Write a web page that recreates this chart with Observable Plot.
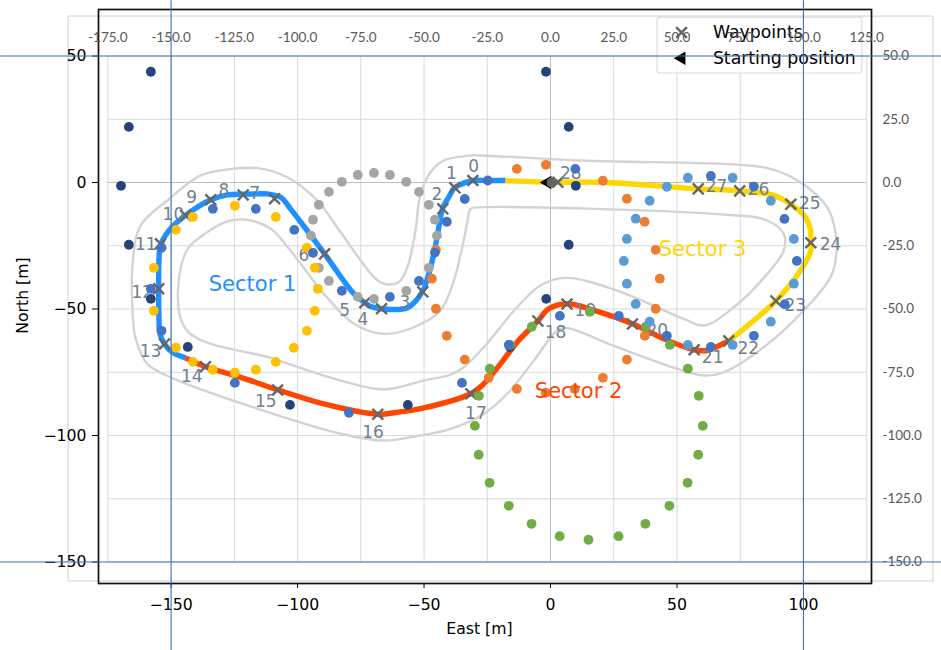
<!DOCTYPE html>
<html>
<head>
<meta charset="utf-8">
<script src="https://cdn.jsdelivr.net/npm/d3@7"></script>
<script src="https://cdn.jsdelivr.net/npm/@observablehq/plot@0.6"></script>
<style>html,body{margin:0;padding:0;background:#fff}svg{display:block}</style>
</head>
<body>
<div id="chart"></div>
<script>
// [East, North] in metres
const sector1 = [[-17.8,0.8],[-24.9,0.8],[-30.8,0.8],[-35.6,-0.8],[-37.9,-2],[-40.3,-5.9],[-42.7,-10.3],[-43.8,-15.8],[-46.1,-28.1],[-48.1,-36],[-50.7,-43.2],[-56.6,-49.5],[-66.8,-49.9],[-71.1,-49],[-73.4,-47.5],[-77.7,-44],[-89.3,-28.2],[-96.2,-19],[-102.8,-10.4],[-106.7,-5.8],[-112,-4.5],[-115.9,-4.5],[-121.5,-4.6],[-127.8,-4.9],[-134.3,-6.8],[-144.3,-13],[-150.9,-19],[-154.2,-24.9],[-154.8,-30.8],[-154.9,-42],[-154.8,-53.2],[-154.4,-59.8],[-152.6,-63.8],[-149.5,-67.1],[-144.3,-69.3]];
const sector2 = [[-144.3,-69.3],[-136.4,-72.8],[-122.5,-77],[-107.9,-81.9],[-89.6,-87.5],[-68.3,-91.6],[-63.2,-91.2],[-50.1,-89.1],[-31.5,-83.5],[-26.4,-79.6],[-19.8,-71.7],[-13.2,-63.1],[-5,-54.7],[-0.7,-49.9],[6.4,-47.9],[18.5,-50.9],[32.4,-55.8],[44.8,-61.8],[56.8,-66.1],[61.9,-66.4],[65.9,-64.8],[70.5,-62.6]];
const sector3 = [[70.5,-62.6],[79.1,-55.6],[89.1,-46.8],[98.8,-34.8],[102.9,-26.9],[102.9,-23.8],[102.8,-19],[100.8,-13.7],[95,-8.6],[88.3,-5.1],[74.8,-3.3],[58.4,-2.5],[46.1,-1.6],[20.7,0.1],[2.9,0.1],[-17.8,0.7]];
const outerBoundary = [[-27.7,10.7],[11.9,8.7],[75.1,7],[87,5.4],[98.8,0.1],[109.4,-9.8],[112.3,-17.7],[113,-28.2],[110.7,-37.4],[100.1,-50.6],[84.3,-65.1],[68.5,-75],[60.6,-76.3],[50.1,-73.6],[26.4,-65.1],[5.9,-57.4],[2.6,-58.5],[-6.6,-70.4],[-17.1,-83.5],[-26.4,-91.4],[-39.5,-97.4],[-51.4,-100],[-65.9,-102],[-83,-99.3],[-115.9,-89.4],[-150.2,-77],[-159.4,-71.7],[-164,-61.8],[-165.1,-53.2],[-165.1,-30.8],[-162.1,-17],[-151.5,-7.1],[-138.3,2.8],[-129.1,5],[-115.9,5.7],[-104.1,2.1],[-92.2,-7.1],[-83.7,-18.6],[-69.8,-37.4],[-65.9,-40],[-60,-39.4],[-56.6,-33.5],[-53.4,-19],[-51.4,-4.5],[-47.4,4.1],[-42.2,8.7],[-31.6,10.7]];
const innerBoundary = [[-27.7,-9.8],[64.5,-12.4],[85.7,-15],[92.2,-20.3],[92.2,-26.9],[85.7,-36.1],[72.5,-49.3],[60.6,-56.5],[52.7,-53.9],[26.4,-42.7],[5.9,-37.7],[-4,-40.7],[-13.2,-49.3],[-26.4,-65.1],[-34.3,-73],[-39.5,-75.9],[-50.2,-78.3],[-65.9,-81.8],[-83,-78.3],[-109.4,-69.7],[-144.3,-57.8],[-144.5,-28.2],[-135.7,-19.6],[-126.5,-15],[-118.6,-15],[-110.7,-18.2],[-102.8,-26.9],[-89.6,-44],[-77.7,-55.8],[-65.9,-59.8],[-54,-57.2],[-43.5,-50.6],[-38.2,-38.7],[-34.9,-25.6],[-32.9,-15.8],[-31.6,-10.4]];
const waypoints = [[-30.7,0.8],[-37.8,-2.1],[-42.6,-10.4],[-50.5,-43.2],[-66.8,-49.9],[-73.4,-47.5],[-89.3,-28.2],[-109.1,-6.4],[-121.5,-4.9],[-134.3,-6.8],[-144.3,-13],[-154.2,-24.2],[-154.9,-42],[-152.6,-63.8],[-136.4,-72.8],[-107.9,-82],[-68.3,-91.6],[-31.5,-83.5],[-5,-54.7],[6.5,-48],[32.4,-55.9],[56.8,-66.1],[70.5,-62.6],[89.1,-46.8],[102.9,-23.8],[95,-8.6],[74.8,-3.3],[58.4,-2.5],[2.9,0.1]];
const waypointLabels = [[-30.4,6.3],[-39.2,3.6],[-44.9,-4.7],[-57.6,-47.5],[-74.2,-54.1],[-81.4,-50.6],[-97.5,-28.9],[-116.9,-4.3],[-129.1,-3.2],[-141.9,-6],[-149.1,-12.5],[-160,-24.5],[-161.4,-43.5],[-158.1,-66.8],[-141.8,-76.5],[-112.6,-86.7],[-70.2,-98.7],[-29.5,-91.4],[2,-59.4],[13.8,-50.7],[42.2,-58.5],[64.1,-69.3],[78.2,-65.7],[96.8,-48.7],[110.7,-24.4],[102.5,-8.2],[82.2,-2.9],[65.6,-1.6],[8,3.4]];

const navyDots = [[-158,43.8],[-166.7,22],[-169.8,-1.3],[-166.7,-24.6],[-158,-46],[-143.4,-65],[-103,-87.9],[-56.4,-87.9],[-16,-65],[-1.7,-46],[7.2,-24.6],[10,-1.3],[7.2,22],[-1.8,43.8]];
const grayDots = [[-69.8,3.8],[-76.2,3],[-63.5,3],[-82.5,0.3],[-57,0.3],[-87.6,-3.7],[-52,-3.7],[-91.6,-8.8],[-48.1,-8.8],[-93.9,-14.7],[-45.7,-14.7],[-94.7,-21],[-44.9,-21],[-91.6,-33.7],[-48.1,-33.7],[-87.6,-38.9],[-57,-42.8],[-76.2,-45.2],[-69.8,-46]];
const goldDots = [[-124.8,-9.2],[-141.4,-13.6],[-108.6,-13.6],[-148.1,-18.7],[-156.8,-33.7],[-156.8,-50.7],[-148.1,-65.3],[-141.4,-70.9],[-133.5,-74],[-124.8,-75.2],[-116.5,-74],[-108.6,-70.9],[-101.5,-65.3],[-96.3,-58.6],[-93.2,-50.7],[-92,-42],[-93.2,-33.7],[-96.3,-25.8]];
const orangeDots = [[-13.3,5.4],[-1.8,7],[20.7,0.7],[30.2,-6.4],[37.2,-15.5],[41.6,-26.6],[43.2,-38],[41.6,-49.9],[37.3,-60.6],[30.2,-70],[20.7,-77.2],[9.6,-81.6],[-1.9,-83.1],[-13.3,-81.6],[-24.4,-77.2],[-33.9,-70],[-41,-60.6],[-45.3,-49.9],[-46.9,-38],[-45.3,-26.6]];
const lightBlueDots = [[54.3,1.9],[72,1.9],[46,-1.7],[87.1,-7.2],[39.2,-7.2],[33.7,-14.3],[96.2,-22.3],[30.2,-22.3],[29,-31],[96.2,-40],[30.2,-40],[87.1,-55],[33.7,-48],[39.2,-55],[54.3,-64.2],[72,-64.2]];
const greenDots = [[-28.3,-84.3],[-29.9,-96.2],[-24,-73.6],[-16,-64.2],[-7.4,-57],[15.5,-51.1],[37.7,-57],[47.2,-64.2],[54.3,-73.6],[58.6,-84.3],[60.2,-96.2],[-28.4,-107.6],[-24.1,-118.7],[-16.5,-127.8],[-7.5,-134.9],[3.6,-139.8],[15,-141.2],[26.9,-139.8],[37.5,-134.9],[47,-127.8],[54.2,-118.7],[58.4,-107.6]];
const blueDots = [[-24.8,0.8],[-33.9,-6.5],[-41,-15.5],[-45.7,-27.7],[-52,-38.9],[-63.5,-45.2],[-82.5,-42.8],[-93.9,-27.8],[-101.3,-18.7],[-116.5,-10.4],[-133.5,-10.4],[-153.8,-25.8],[-158,-42],[-153.8,-58.6],[-124.8,-79.2],[-79.7,-91],[-35,-79.2],[-16.5,-64.2],[3.7,-52.7],[27,-52.7],[46,-60.6],[63.4,-65],[80.4,-60.6],[92.6,-48.1],[97.4,-31],[92.5,-14.4],[80.4,-1.6],[63.4,2.6],[9.8,5.4]];

const sectorNames = ["Sector 1","Sector 2","Sector 3"];
const sectorColors = ["#1e90ff","#ff4500","#ffd700"];
const sectorLabelEast = [-117.8,11.1,60.1];
const sectorLabelNorth = [-40.3,-82.6,-26.5];

const mainXTicks = [-150,-100,-50,0,50,100];
const mainYTicks = [50,0,-50,-100,-150];
const gridX = [-175,-150,-125,-100,-75,-50,-25,0,25,50,75,100,125];
const gridY = [50,25,0,-25,-50,-75,-100,-125,-150];
const crossX = [-150,100];
const crossY = [50,-150];
const xDomain = [-178.7,126.9];
const yDomain = [-158.5,68.4];
const pageX = [-217.4,154.6];
const pageY = [71.9,-185];
const overlayTop = 57.3;
const overlayRight = 131.2;
const overlayBox = [-190.5,151.4,65.6,-157.7];
const legendBox = [42.3,123.3,65.2,43.1];
const legendItems = ["Waypoints","Starting position"];
const legendNorth = [59.3,49.1];
const legendMarkEast = 51.8;
const legendTextEast = 64.2;
const start = [[0,0]];
const axisTitleX = {text:"East [m]", x:-28.1, y:-176.3};
const axisTitleY = {text:"North [m]", x:-208.7, y:-44.7};

const toRows = a => a.map(([x,y]) => ({x,y}));
const DV = "DejaVu Sans";
const XL = "Lato";
const dots = (a, fill) => Plot.dot(toRows(a), {x:"x", y:"y", r:4.9, fill, stroke:"none"});
const boundary = a => Plot.line(toRows(a), {x:"x", y:"y", curve:"catmull-rom-closed", stroke:"#d3d3d3", strokeWidth:2.4});
const racing = (a, c) => Plot.line(toRows(a), {x:"x", y:"y", curve:"catmull-rom", stroke:c, strokeWidth:5.4, strokeLinecap:"butt"});

const chart = Plot.plot({
  width:941, height:650,
  marginLeft:98, marginRight:70, marginTop:9, marginBottom:67,
  x:{domain:xDomain, range:[98,871]},
  y:{domain:yDomain, range:[583,9]},
  style:{fontFamily:DV, background:"#fff", overflow:"visible"},
  marks:[
    // overlaid spreadsheet chart: outline and gridlines
    Plot.rect([overlayBox], {x1:d=>d[0], x2:d=>d[1], y1:d=>d[2], y2:d=>d[3], fill:"none", stroke:"#d9d9d9", strokeWidth:1.2}),
    Plot.ruleX(gridX, {y1:gridY[0], y2:gridY[gridY.length-1], stroke:d=>d===0?"#bfbfbf":"#d9d9d9", strokeWidth:1}),
    Plot.ruleY(gridY, {x1:gridX[0], x2:gridX[gridX.length-1], stroke:d=>d===0?"#bfbfbf":"#d9d9d9", strokeWidth:1}),

    boundary(outerBoundary),
    boundary(innerBoundary),
    racing(sector1, sectorColors[0]),
    racing(sector2, sectorColors[1]),
    racing(sector3, sectorColors[2]),

    Plot.dot(start, {x:d=>d[0], y:d=>d[1], symbol:"triangle", rotate:-90, r:5, fill:"#000", stroke:"none", dx:-3}),
    Plot.dot(toRows(waypoints), {x:"x", y:"y", symbol:"times", r:5, stroke:"#666", strokeWidth:2.4, fill:"none"}),
    Plot.text(toRows(waypointLabels), {x:"x", y:"y", text:(d,i)=>String(i), fontSize:17, fill:"#708090", fontFamily:DV}),
    Plot.dot(start, {x:d=>d[0], y:d=>d[1], r:5, fill:"#666", stroke:"none", dx:1}),

    // frame and primary axes
    Plot.frame({stroke:"#111", strokeWidth:1.7}),
    Plot.axisX(mainXTicks, {anchor:"bottom", tickSize:5, tickPadding:10, fontSize:15.7, stroke:"#000", color:"#000", label:null, tickFormat:d=>d3.format("d")(d)}),
    Plot.axisY(mainYTicks, {anchor:"left", tickSize:6, tickPadding:6, fontSize:15.7, stroke:"#000", color:"#000", label:null, tickFormat:d=>d3.format("d")(d)}),
    Plot.text([axisTitleX], {x:"x", y:"y", text:"text", fontSize:15.7, fill:"#000", fontFamily:DV}),
    Plot.text([axisTitleY], {x:"x", y:"y", text:"text", rotate:-90, fontSize:15.7, fill:"#000", fontFamily:DV}),

    // legend
    Plot.rect([legendBox], {x1:d=>d[0], x2:d=>d[1], y1:d=>d[2], y2:d=>d[3], fill:"#fff", fillOpacity:0.8, stroke:"#dcdcdc", strokeWidth:1.2, rx:3}),
    Plot.dot([legendItems[0]], {x:legendMarkEast, y:legendNorth[0], symbol:"times", r:5, stroke:"#666", strokeWidth:2.4, fill:"none"}),
    Plot.dot([legendItems[1]], {x:legendMarkEast, y:legendNorth[1], symbol:"triangle", rotate:-90, r:5, fill:"#000", stroke:"none"}),
    Plot.text(legendItems, {x:legendTextEast, y:(d,i)=>legendNorth[i], text:d=>d, textAnchor:"start", fontSize:17.3, fill:"#000", fontFamily:DV}),

    // overlaid spreadsheet chart: tick labels, points, rules
    Plot.text(gridX, {x:d=>d, y:overlayTop, text:d=>d.toFixed(1), fontSize:13.5, fill:"#595959", fontFamily:XL}),
    Plot.text(gridY, {x:overlayRight, y:d=>d, text:d=>d.toFixed(1), textAnchor:"start", fontSize:13.5, fill:"#595959", fontFamily:XL}),
    dots(navyDots,"#264478"),
    dots(grayDots,"#a5a5a5"),
    dots(goldDots,"#ffc000"),
    dots(orangeDots,"#ed7d31"),
    dots(greenDots,"#70ad47"),
    dots(lightBlueDots,"#5b9bd5"),
    dots(blueDots,"#4472c4"),
    Plot.text(sectorNames, {x:(d,i)=>sectorLabelEast[i], y:(d,i)=>sectorLabelNorth[i], text:d=>d, fill:(d,i)=>sectorColors[i], fontSize:21, fontFamily:DV}),
    Plot.ruleX(crossX, {y1:pageY[0], y2:pageY[1], stroke:"#3f6fb5", strokeWidth:1.1}),
    Plot.ruleY(crossY, {x1:pageX[0], x2:pageX[1], stroke:"#3f6fb5", strokeWidth:1.1})
  ]
});
document.getElementById("chart").appendChild(chart);
</script>
</body>
</html>
